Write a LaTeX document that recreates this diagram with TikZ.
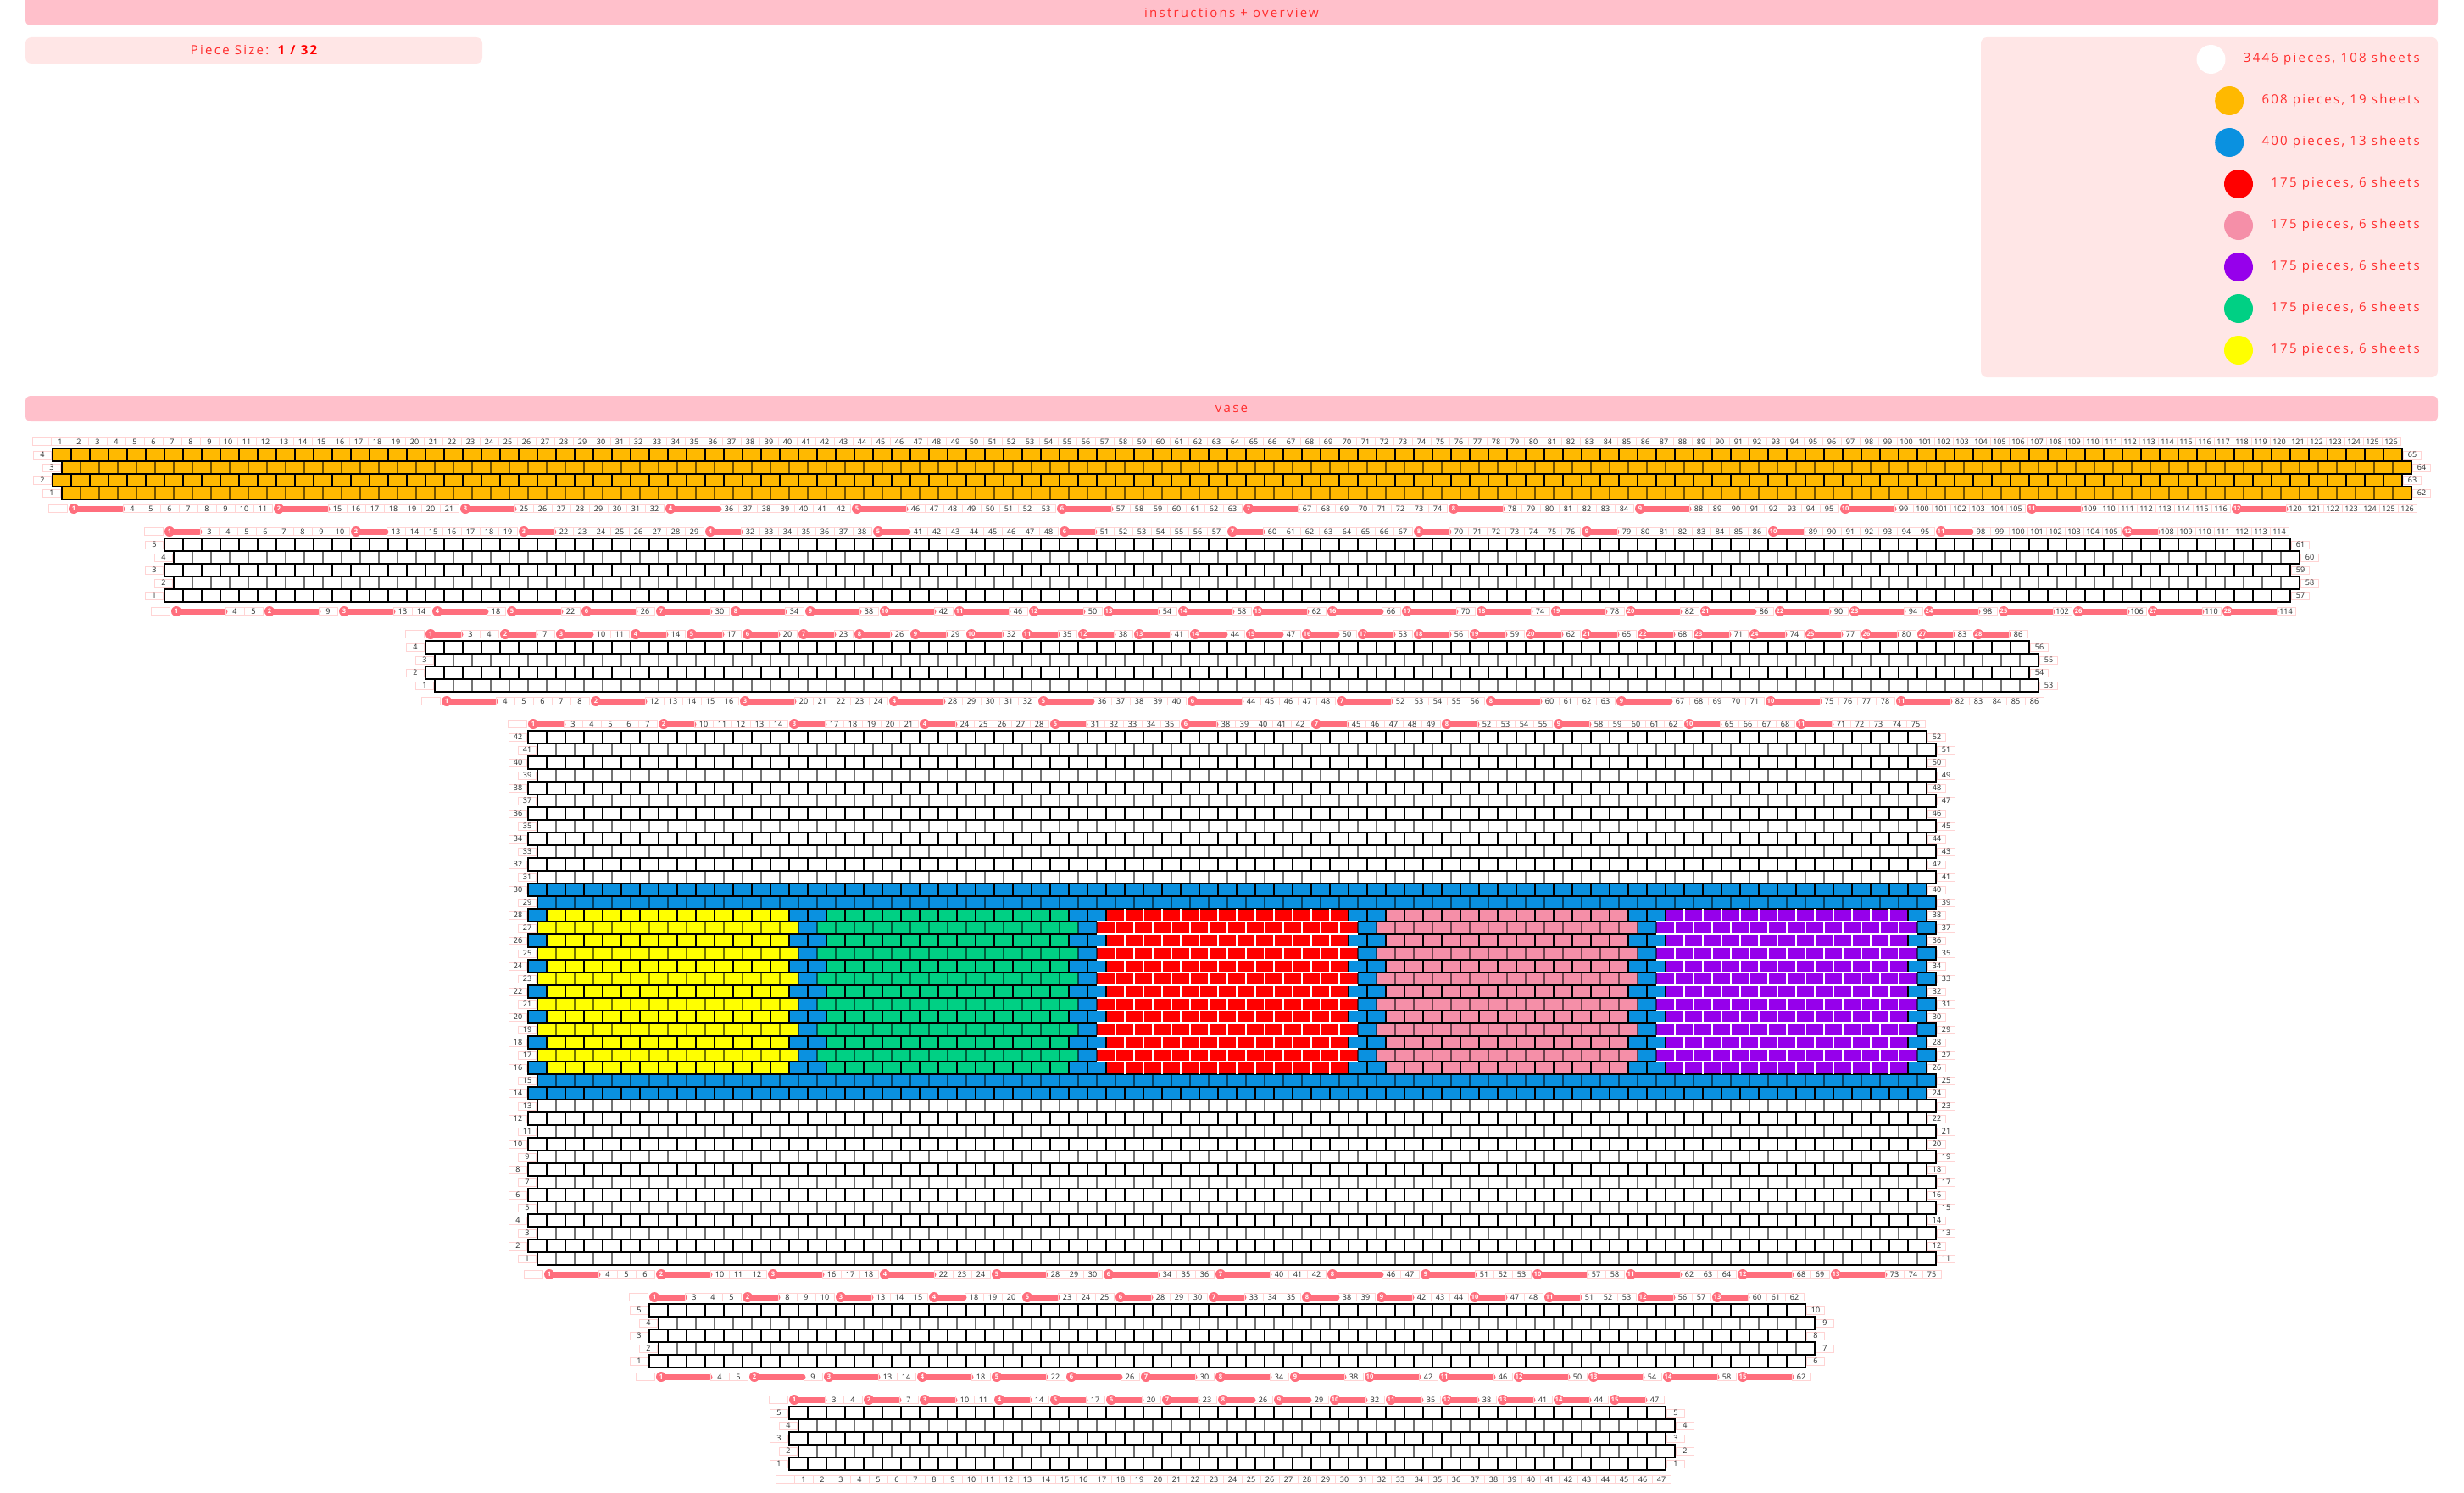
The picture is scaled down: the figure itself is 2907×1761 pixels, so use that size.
\documentclass[tikz,border=0pt]{standalone}
\usepackage{fontspec}
\setmainfont{Open Sans}
\newfontfamily\widefont[LetterSpace=15]{Open Sans}
\usepackage{tikz}
\usetikzlibrary{positioning}

\definecolor{barpink}{RGB}{255,192,203}
\definecolor{softpink}{RGB}{255,230,230}
\definecolor{inkred}{RGB}{255,45,45}
\definecolor{pillred}{RGB}{255,110,125}
\definecolor{boxpink}{RGB}{255,212,212}
\definecolor{vaseorange}{RGB}{255,185,0}
\definecolor{vaseblue}{RGB}{10,145,224}
\definecolor{vasered}{RGB}{255,0,0}
\definecolor{vasepink}{RGB}{245,143,168}
\definecolor{vasepurple}{RGB}{150,0,235}
\definecolor{vasegreen}{RGB}{0,208,132}
\definecolor{vaseyellow}{RGB}{255,255,0}

% pills of one label row: id, columns per pill, first columns
\newcommand{\markpills}[3]{%
  \expandafter\xdef\csname pw-#1\endcsname{#2}%
  \foreach \s [count=\pn] in {#3}{%
    \expandafter\xdef\csname pl-#1-\s\endcsname{\pn}%
    \foreach \j in {2,...,#2}{%
      \pgfmathtruncatemacro\skipcol{\s+\j-1}%
      \expandafter\xdef\csname sk-#1-\skipcol\endcsname{1}}}}

% numbers above / below a band: id, columns, x of column 1, y
\newcommand{\labelrow}[4]{%
  \node[lab] (#1-0) at (#3-22,#4) {};
  \foreach \cc in {1,...,#2}{%
    \pgfmathsetmacro\lx{#3+22*(\cc-1)}%
    \ifcsname pl-#1-\cc\endcsname
      \pgfmathsetmacro\lxe{\lx+22*(\csname pw-#1\endcsname-1)+10}%
      \draw[pillbar] (\lx-2,#4) -- (\lxe,#4);
      \node[pilldot] (#1-\cc) at (\lx-3,#4) {\csname pl-#1-\cc\endcsname};
    \else\ifcsname sk-#1-\cc\endcsname\else
      \node[lab] (#1-\cc) at (\lx,#4) {\cc};
    \fi\fi}}

% one band of brick rows: id, columns, rows, top y, number of lowest row, fill
\newcommand{\vaseband}[6]{%
  \pgfmathsetmacro\bx{1453.5-(22*#2+11)/2}%
  \pgfmathsetmacro\rw{22*#2}%
  \pgfmathtruncatemacro\lastc{#2-1}%
  \foreach \i in {1,...,#3}{%
    \pgfmathtruncatemacro\loc{#3-\i+1}%
    \pgfmathtruncatemacro\glob{#5+\loc-1}%
    \pgfmathsetmacro\ry{#4+8+15*(\i-1)}%
    \pgfmathtruncatemacro\off{mod(\i+1,2)}%
    \pgfmathsetmacro\rx{\bx+11*\off}%
    \fill[#6] (\rx,\ry) rectangle ++(\rw,15);
    \ifnum\off=0
      \draw[joint] foreach \cc in {1,...,\lastc}{ ({\rx+22*\cc},\ry) -- ++(0,15) };
    \else
      \draw[offjoint] foreach \cc in {1,...,\lastc}{ ({\rx+22*\cc},\ry) -- ++(0,15) };
    \fi
    \draw[brick] (\rx,\ry) rectangle ++(\rw,15);
    \node[rowlab] (#1-row\loc) at (\rx-12,\ry+7.5) {\loc};
    \node[rowlab] (#1-glob\loc) at (\rx+\rw+12,\ry+7.5) {\glob};
  }%
  \pgfmathsetmacro\tx{\bx+9}%
  \labelrow{#1t}{#2}{\tx}{#4}%
  \pgfmathtruncatemacro\boff{mod(#3+1,2)}%
  \pgfmathsetmacro\btx{\bx+11*\boff+17}%
  \pgfmathsetmacro\bty{#4+8+15*#3+11}%
  \labelrow{#1b}{#2}{\btx}{\bty}}

\begin{document}
\begin{tikzpicture}[x=1pt, y=-1pt,
    bar/.style={fill=barpink, rounded corners=6pt, inner sep=0pt, text=inkred, font=\widefont\fontsize{15}{15}\selectfont},
    softbox/.style={fill=softpink, rounded corners=7pt, inner sep=0pt, text=inkred, font=\widefont\fontsize{15}{15}\selectfont},
    legtext/.style={anchor=east, inner sep=0pt, text=inkred, font=\widefont\fontsize{15}{15}\selectfont},
    legdot/.style={circle, minimum size=34pt, inner sep=0pt},
    brick/.style={draw=black, line width=1.4pt},
    joint/.style={draw=black, line width=1.3pt},
    offjoint/.style={draw=black, draw opacity=.55, line width=2.6pt},
    lightjoint/.style={draw=white, line width=1.6pt},
    lab/.style={draw=boxpink, line width=.7pt, minimum width=22pt, minimum height=9pt, inner sep=0pt, text=black!85, font=\fontsize{9}{9}\selectfont},
    rowlab/.style={lab, minimum width=21pt},
    pillbar/.style={draw=pillred, line width=7pt, line cap=round},
    pilldot/.style={circle, fill=pillred, minimum size=12pt, inner sep=0pt, text=white, font=\bfseries\fontsize{7.5}{7.5}\selectfont}]

    \useasboundingbox (0,0) rectangle (2907,1761);

    % headers
    \fill[barpink, rounded corners=6pt] (30,-12) rectangle (2876,30);
    \node[inner sep=0pt, text=inkred, font=\widefont\fontsize{15}{15}\selectfont] (title) at (1453,15) {instructions + overview};
    \node[softbox, minimum width=539pt, minimum height=31pt] (piece) at (299.5,59.5) {Piece Size: \textbf{\color{red}1 / 32}};
    \node[bar, minimum width=2846pt, minimum height=30pt] (vase) at (1453,482) {vase};

    % legend
    \node[softbox, minimum width=539pt, minimum height=401pt] (legend) at (2606.5,244.5) {};
    \foreach \pcs/\sh/\tone [count=\n] in {3446/108/white, 608/19/vaseorange, 400/13/vaseblue,
        175/6/vasered, 175/6/vasepink, 175/6/vasepurple, 175/6/vasegreen, 175/6/vaseyellow}{
      \node[legtext] (leg\n) at (2855,{21+49*\n}) {\pcs\ pieces, \sh\ sheets};
      \node[legdot, fill=\tone, left=21pt of leg\n] (dot\n) {};
    }

    % where the pieces join
    \markpills{Ab}{3}{1,12,22,33,43,54,64,75,85,96,106,117}
    \markpills{Bt}{2}{1,11,20,30,39,49,58,68,77,87,96,106}
    \markpills{Bb}{3}{1,6,10,15,19,23,27,31,35,39,43,47,51,55,59,63,67,71,75,79,83,87,91,95,99,103,107,111}
    \markpills{Ct}{2}{1,5,8,12,15,18,21,24,27,30,33,36,39,42,45,48,51,54,57,60,63,66,69,72,75,78,81,84}
    \markpills{Cb}{3}{1,9,17,25,33,41,49,57,64,72,79}
    \markpills{Dt}{2}{1,8,15,22,29,36,43,50,56,63,69}
    \markpills{Db}{3}{1,7,13,19,25,31,37,43,48,54,59,65,70}
    \markpills{Et}{2}{1,6,11,16,21,26,31,36,40,45,49,54,58}
    \markpills{Eb}{3}{1,6,10,15,19,23,27,31,35,39,43,47,51,55,59}
    \markpills{Ft}{2}{1,5,8,12,15,18,21,24,27,30,33,36,39,42,45}

    % coloured band of the body
    \foreach \r in {14,15,29,30}{
      \pgfmathsetmacro\ry{862+15*(42-\r)}
      \pgfmathsetmacro\rx{623+11*mod(\r,2)}
      \fill[vaseblue] (\rx,\ry) rectangle ++(1650,15);
    }
    \foreach \r in {16,...,28}{
      \pgfmathsetmacro\ry{862+15*(42-\r)}
      \pgfmathtruncatemacro\off{mod(\r,2)}
      \pgfmathsetmacro\rx{623+11*\off}
      \fill[vaseblue] (\rx,\ry) rectangle ++(1650,15);
      \foreach \tone [count=\j from 0] in {vaseyellow,vasegreen,vasered,vasepink,vasepurple}{
        \pgfmathsetmacro\sx{\rx+22*(15*\j+1-\off)}
        \pgfmathsetmacro\ex{\rx+22*(15*\j+14)}
        \fill[\tone] (\sx,\ry) rectangle (\ex,\ry+15);
      }
    }

    % bands, top to bottom
    \vaseband{A}{126}{4}{521}{62}{fill=vaseorange}
    \vaseband{B}{114}{5}{627}{57}{fill=none}
    \vaseband{C}{86}{4}{748}{53}{fill=none}
    \vaseband{D}{75}{42}{854}{11}{fill=none}
    \vaseband{E}{62}{5}{1530}{6}{fill=none}
    \vaseband{F}{47}{5}{1651}{1}{fill=none}

    % light joints on the dark pieces
    \foreach \r in {16,...,28}{
      \pgfmathsetmacro\ry{862+15*(42-\r)}
      \pgfmathtruncatemacro\off{mod(\r,2)}
      \pgfmathsetmacro\rx{623+11*\off}
      \foreach \j in {2,4}{
        \pgfmathtruncatemacro\fa{15*\j+2-\off}
        \pgfmathtruncatemacro\la{15*\j+13}
        \pgfmathsetmacro\sx{\rx+22*(15*\j+1-\off)}
        \pgfmathsetmacro\ex{\rx+22*(15*\j+14)}
        \draw[lightjoint] foreach \cc in {\fa,...,\la}{ ({\rx+22*\cc},\ry) -- ++(0,15) };
        \ifnum\r<28 \draw[lightjoint] (\sx,\ry) -- (\ex,\ry); \fi
        \ifnum\r>16 \draw[lightjoint] (\sx,\ry+15) -- (\ex,\ry+15); \fi
      }
    }
\end{tikzpicture}
\end{document}
